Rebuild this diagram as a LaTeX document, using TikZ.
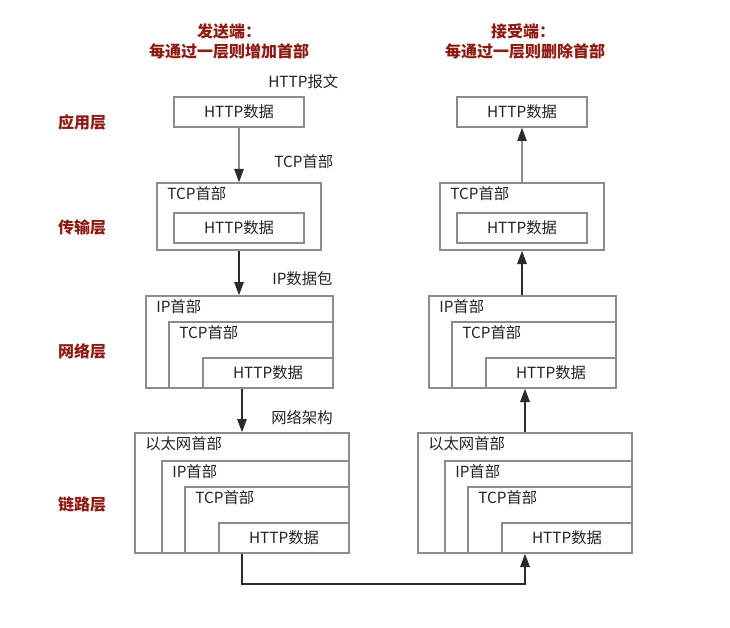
\documentclass[tikz,border=0pt]{standalone}
\usepackage{fontspec}
\setmainfont{Noto Sans CJK SC}
\usetikzlibrary{fit,arrows.meta}
\definecolor{boxgray}{HTML}{8C8C8C}
\definecolor{txt}{HTML}{222222}
\definecolor{darkred}{HTML}{8E1B13}
\definecolor{arrdark}{HTML}{2B2B2B}
\tikzset{
  box/.style={draw=boxgray, line width=1pt, inner sep=0pt},
  lbl/.style={text=txt, font=\fontsize{11.5}{13}\selectfont, inner sep=0pt},
  title/.style={text=darkred, font=\bfseries\fontsize{12}{14}\selectfont, inner sep=0pt},
  arr/.style={draw=arrdark, line width=1.5pt, -{Triangle[length=10pt,width=7pt]}},
  arrg/.style={draw=boxgray, line width=1.2pt, -{Triangle[length=10pt,width=7pt,color=arrdark]}},
}
\begin{document}
\begin{tikzpicture}[x=0.75pt,y=-0.75pt]
\useasboundingbox (0,0) rectangle (730,627);
% titles
\node[title] (t1a) at (229,31) {发送端：};
\node[title] (t1b) at (229,51) {每通过一层则增加首部};
\node[title] (t2a) at (523,31) {接受端：};
\node[title] (t2b) at (525,51) {每通过一层则删除首部};
% layer labels
\node[title] (L1) at (82,122) {应用层};
\node[title] (L2) at (82,227) {传输层};
\node[title] (L3) at (82,351) {网络层};
\node[title] (L4) at (82,504) {链路层};

% ---------- left (sender) ----------
\node[box,fit={(174,97)(304,127)}] (lhttp) {};
\node[lbl] (lhttpt) at (lhttp.center) {HTTP数据};

\node[box,fit={(157,183)(321,250)}] (ltcp) {};
\node[lbl,anchor=west] (ltcpt) at (167,194) {TCP首部};
\node[box,fit={(174,213)(304,243)}] (ltcph) {};
\node[lbl] (ltcpht) at (ltcph.center) {HTTP数据};

\node[box,fit={(146,296)(333,388)}] (lip) {};
\node[lbl,anchor=west] (lipt) at (156,307) {IP首部};
\node[box,fit={(169,322)(333,388)}] (liptcp) {};
\node[lbl,anchor=west] (liptcpt) at (179,333) {TCP首部};
\node[box,fit={(203,358)(333,388)}] (liph) {};
\node[lbl] (lipht) at (liph.center) {HTTP数据};

\node[box,fit={(135,433)(349,553)}] (llink) {};
\node[lbl,anchor=west] (llinkt) at (145,444) {以太网首部};
\node[box,fit={(162,461)(349,553)}] (llip) {};
\node[lbl,anchor=west] (llipt) at (172,472) {IP首部};
\node[box,fit={(185,487)(349,553)}] (lltcp) {};
\node[lbl,anchor=west] (lltcpt) at (195,498) {TCP首部};
\node[box,fit={(219,523)(349,553)}] (llh) {};
\node[lbl] (llht) at (llh.center) {HTTP数据};

% annotations
\node[lbl,anchor=west] (a1) at (268,82) {HTTP报文};
\node[lbl,anchor=west] (a2) at (274,162) {TCP首部};
\node[lbl,anchor=west] (a3) at (272,279) {IP数据包};
\node[lbl,anchor=west] (a4) at (271,418) {网络架构};

% ---------- right (receiver) ----------
\node[box,fit={(457,97)(587,127)}] (rhttp) {};
\node[lbl] (rhttpt) at (rhttp.center) {HTTP数据};

\node[box,fit={(440,183)(604,250)}] (rtcp) {};
\node[lbl,anchor=west] (rtcpt) at (450,194) {TCP首部};
\node[box,fit={(457,213)(587,243)}] (rtcph) {};
\node[lbl] (rtcpht) at (rtcph.center) {HTTP数据};

\node[box,fit={(429,296)(616,388)}] (rip) {};
\node[lbl,anchor=west] (ript) at (439,307) {IP首部};
\node[box,fit={(452,322)(616,388)}] (riptcp) {};
\node[lbl,anchor=west] (riptcpt) at (462,333) {TCP首部};
\node[box,fit={(486,358)(616,388)}] (riph) {};
\node[lbl] (ripht) at (riph.center) {HTTP数据};

\node[box,fit={(418,433)(632,553)}] (rlink) {};
\node[lbl,anchor=west] (rlinkt) at (428,444) {以太网首部};
\node[box,fit={(445,461)(632,553)}] (rlip) {};
\node[lbl,anchor=west] (rlipt) at (455,472) {IP首部};
\node[box,fit={(468,487)(632,553)}] (rltcp) {};
\node[lbl,anchor=west] (rltcpt) at (478,498) {TCP首部};
\node[box,fit={(502,523)(632,553)}] (rlh) {};
\node[lbl] (rlht) at (rlh.center) {HTTP数据};

% ---------- connectors ----------
\draw[arrg] (lhttp.south) -- (ltcp.north);
\draw[arr] (ltcp.south) -- (lip.north -| ltcp.south);
\draw[arr] (llink.north |- lip.south) -- (llink.north);
\coordinate (bend) at (242,584);
\draw[arr] (llink.south) -- (bend) -| (rlink.south);
\draw[arr] (rlink.north) -- (rlink.north |- rip.south);
\draw[arr] (rtcp.south |- rip.north) -- (rtcp.south);
\draw[arrg] (rtcp.north) -- (rhttp.south);
\end{tikzpicture}
\end{document}
